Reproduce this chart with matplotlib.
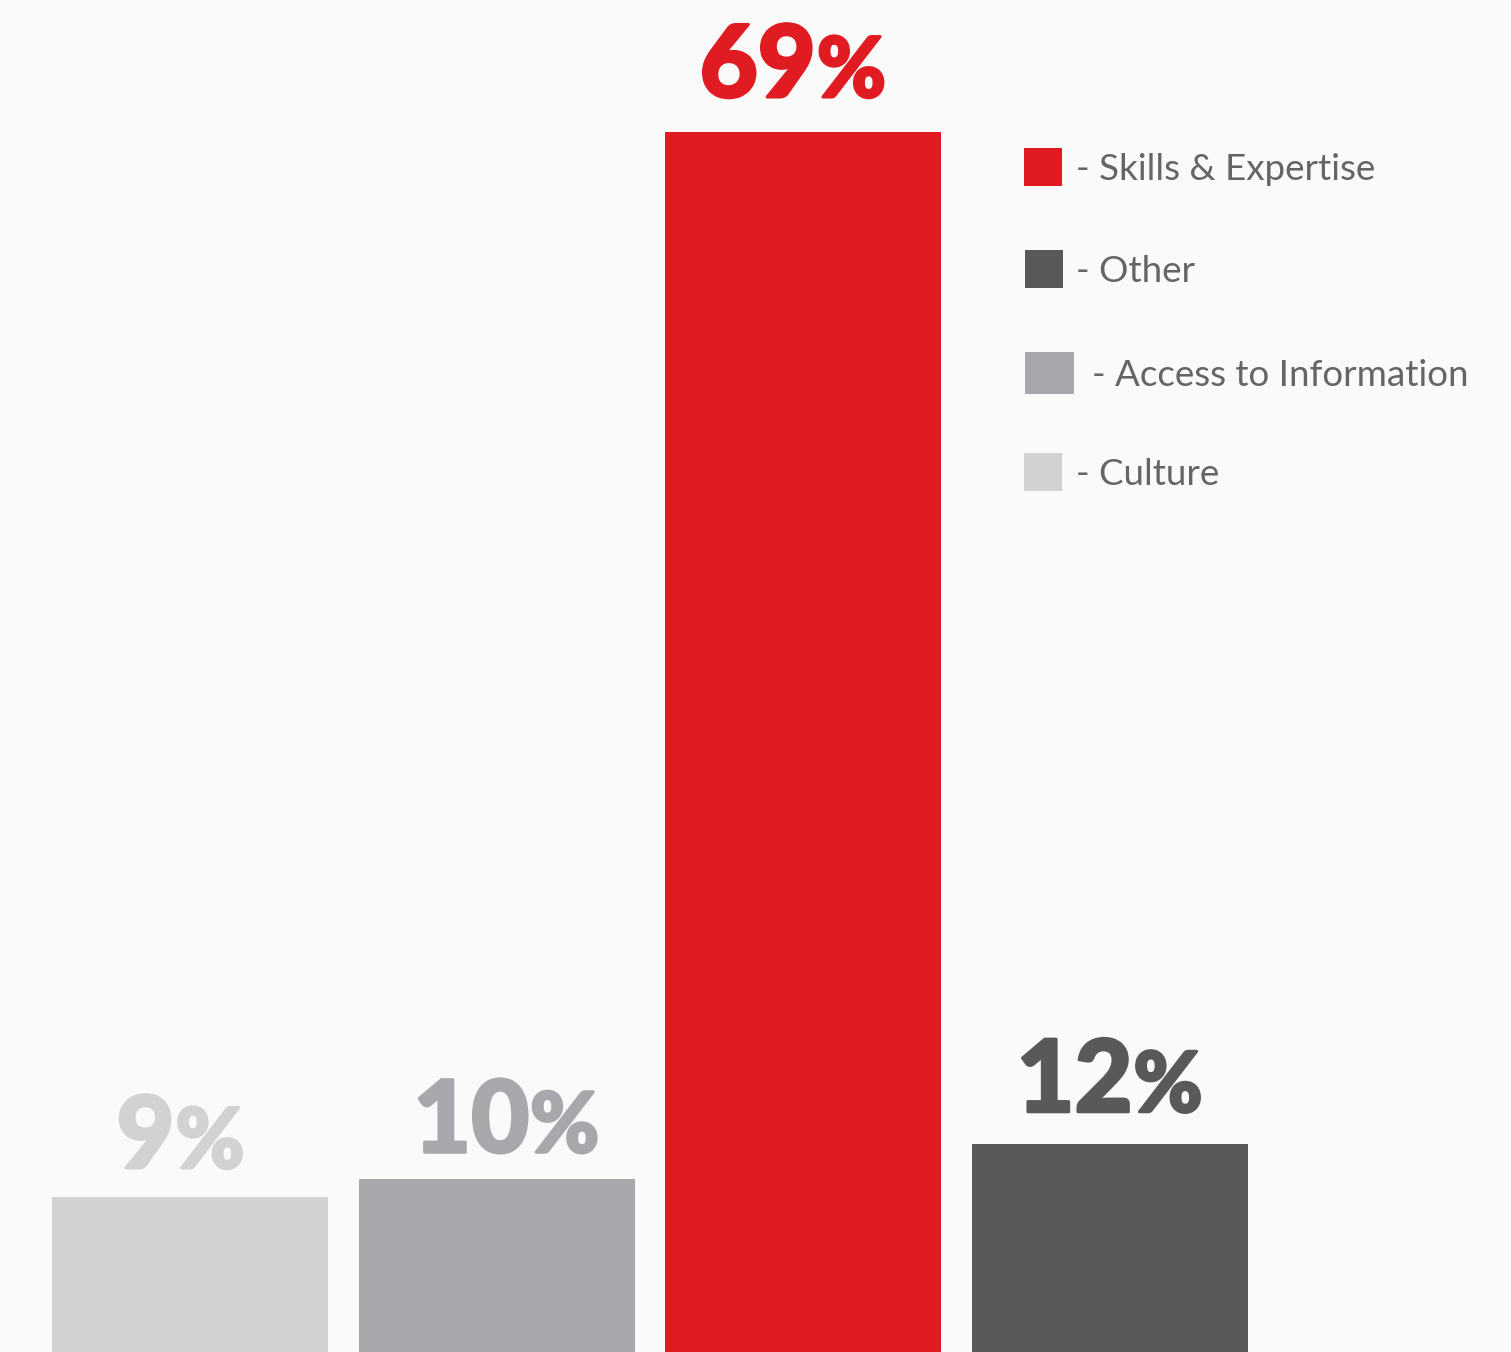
import matplotlib
matplotlib.use("Agg")
import matplotlib.pyplot as plt
from matplotlib.patches import Rectangle
from matplotlib import transforms
import matplotlib.patheffects as pe

# Survey shares by category
categories = ["Culture", "Access to Information", "Skills & Expertise", "Other"]
values = [9, 10, 69, 12]
colors = ["#d1d2d4", "#a7a8ab", "#e01b22", "#58595b"]
legend_order = ["Skills & Expertise", "Other", "Access to Information", "Culture"]

W, H = 1511, 1352
BG = "#fafafa"
fig = plt.figure(figsize=(W / 100, H / 100), dpi=100, facecolor=BG)

# Axes fill the figure; the baseline sits just below the bottom edge
base_px = 4.75
ax = fig.add_axes([0, -base_px / H, 1, (H + base_px) / H])
ax.set_facecolor(BG)
xs = list(range(len(values)))
bars = ax.bar(xs, values, width=0.9, color=colors, linewidth=0)
unit = 306.67
ax.set_xlim(-190 / unit, (W - 190) / unit)
ax.set_ylim(0, (H + base_px) / 17.75)
ax.axis("off")

# Value labels: large heavy digits followed by a smaller percent sign
num_font = dict(family=["Lato", "DejaVu Sans"], weight="black")
label_dx = [-10, 9, -11, -1]   # pixel nudges for label placement
label_dy = [29, 27, 35, 32]
labels = []
for xi, v, c, dx, dy in zip(xs, values, colors, label_dx, label_dy):
    heavy = [pe.withStroke(linewidth=2.2, foreground=c)]
    base = transforms.offset_copy(ax.transData, fig=fig, x=dx, y=dy, units="dots")
    t1 = ax.text(xi, v, f"{v}", ha="right", va="baseline", fontsize=72,
                 color=c, transform=base, path_effects=heavy, **num_font)
    t2 = ax.text(xi, v, "%", ha="left", va="baseline", fontsize=60,
                 color=c, transform=base, path_effects=heavy, **num_font)
    labels.append((xi, v, dx, dy, t1, t2))

fig.canvas.draw()
r = fig.canvas.get_renderer()
for xi, v, dx, dy, t1, t2 in labels:
    wd = t1.get_window_extent(r).width
    wp = t2.get_window_extent(r).width
    shift = (wd - wp) / 2 + dx
    t1.set_transform(transforms.offset_copy(ax.transData, fig=fig, x=shift, y=dy, units="dots"))
    t2.set_transform(transforms.offset_copy(ax.transData, fig=fig, x=shift + 1, y=dy, units="dots"))

# Legend drawn as swatches with dash-prefixed labels
legend_rows = {
    "Skills & Expertise": (1024, 148, 38, 38, 1076, 169),
    "Other": (1025, 250, 38, 38, 1076, 271),
    "Access to Information": (1025, 352, 49, 42, 1092, 375),
    "Culture": (1024, 453, 38, 38, 1076, 474),
}
for name in legend_order:
    x0, y0, w, h, tx, ty = legend_rows[name]
    col = colors[categories.index(name)]
    fig.add_artist(Rectangle((x0 / W, 1 - (y0 + h) / H), w / W, h / H,
                             transform=fig.transFigure, facecolor=col,
                             edgecolor="none"))
    fig.text(tx / W, 1 - ty / H, f"- {name}", ha="left", va="center",
             fontsize=26.5, color="#646567", weight="normal",
             family=["Lato", "DejaVu Sans"])

fig.savefig("out.png", dpi=100, facecolor=BG)
